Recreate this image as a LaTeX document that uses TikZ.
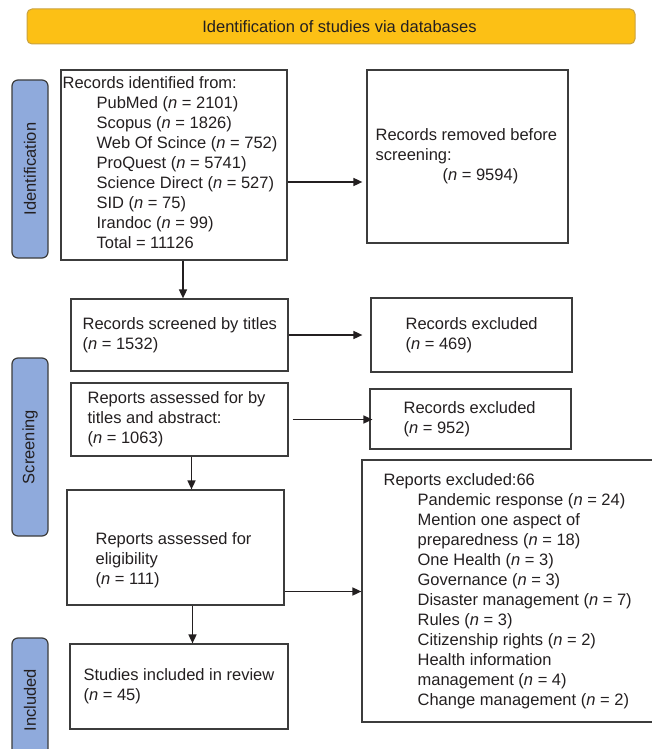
\documentclass[tikz,border=0pt]{standalone}
\usepackage{fontspec}
\setmainfont{Liberation Sans}
\usetikzlibrary{arrows.meta}
\definecolor{bannerfill}{HTML}{FCC015}
\definecolor{bannerline}{HTML}{C9A23F}
\definecolor{tabfill}{HTML}{8FAADC}
\definecolor{ink}{HTML}{231F20}
\definecolor{frame}{HTML}{3C3C3C}
\newcommand\ind{\hspace*{34pt}}
\newcommand\nn{\textit{n}}
\begin{document}
\begin{tikzpicture}[x=1pt,y=-1pt,
  every node/.style={font=\fontsize{16.5}{20}\selectfont, text=ink},
  box/.style={draw=frame, line width=1.2pt, inner sep=0pt},
  txt/.style={align=left, inner sep=0pt, anchor=west},
  tab/.style={draw=frame, fill=tabfill, rounded corners=6pt, line width=1.2pt, rotate=90, inner sep=0pt},
  arr/.style={draw=ink, line width=1.6pt, -{Triangle[length=9pt,width=8pt]}}]
\useasboundingbox (0,0) rectangle (652,749);
\clip (0,0) rectangle (652,749);

% banner
\node[draw=bannerline, fill=bannerfill, rounded corners=5pt, line width=1pt,
      minimum width=608pt, minimum height=35pt, inner sep=0pt] (ban) at (331,26.5)
      {\hspace*{17pt}Identification of studies via databases};

% side tabs
\node[tab, minimum width=178pt, minimum height=36pt] (tid) at (30,169) {Identification};
\node[tab, minimum width=178pt, minimum height=36pt] (tsc) at (30,447) {Screening};
\node[tab, minimum width=124pt, minimum height=36pt] (tin) at (30,700) {Included};

% boxes
\node[box, minimum width=226pt, minimum height=190pt] (b1) at (174,165) {};
\node[txt] (b1t) at ([xshift=2pt,yshift=2pt]b1.west) {Records identified from:\\
\ind PubMed (\nn{} = 2101)\\
\ind Scopus (\nn{} = 1826)\\
\ind Web Of Scince (\nn{} = 752)\\
\ind ProQuest (\nn{} = 5741)\\
\ind Science Direct (\nn{} = 527)\\
\ind SID (\nn{} = 75)\\
\ind Irandoc (\nn{} = 99)\\
\ind Total = 11126};

\node[box, minimum width=201pt, minimum height=173pt] (rem) at (467.5,156.5) {};
\node[txt] (remt) at ([xshift=9pt]rem.west) {Records removed before\\
screening:\\
\hspace*{67pt}(\nn{} = 9594)};

\node[box, minimum width=217pt, minimum height=72pt] (b2) at (179.5,335) {};
\node[txt] (b2t) at ([xshift=12pt]b2.west) {Records screened by titles\\(\nn{} = 1532)};

\node[box, minimum width=201pt, minimum height=74pt] (ex1) at (471.5,335) {};
\node[txt] (ex1t) at ([xshift=35pt]ex1.west) {Records excluded\\(\nn{} = 469)};

\node[box, minimum width=217pt, minimum height=73pt] (b3) at (179.5,419.5) {};
\node[txt] (b3t) at ([xshift=17pt]b3.west) {Reports assessed for by\\titles and abstract:\\(\nn{} = 1063)};

\node[box, minimum width=201pt, minimum height=60pt] (ex2) at (470.5,419) {};
\node[txt] (ex2t) at ([xshift=34pt]ex2.west) {Records excluded\\(\nn{} = 952)};

\node[box, minimum width=217pt, minimum height=115pt] (b4) at (175.5,547.5) {};
\node[txt] (b4t) at ([xshift=29pt,yshift=-13pt]b4.west) {Reports assessed for\\eligibility\\(\nn{} = 111)};

\node[box, minimum width=300pt, minimum height=262pt] (ex3) at (512,591) {};
\node[txt] (ex3t) at ([xshift=22pt]ex3.west) {Reports excluded:66\\
\ind Pandemic response (\nn{} = 24)\\
\ind Mention one aspect of\\
\ind preparedness (\nn{} = 18)\\
\ind One Health (\nn{} = 3)\\
\ind Governance (\nn{} = 3)\\
\ind Disaster management (\nn{} = 7)\\
\ind Rules (\nn{} = 3)\\
\ind Citizenship rights (\nn{} = 2)\\
\ind Health information\\
\ind management (\nn{} = 4)\\
\ind Change management (\nn{} = 2)};

\node[box, minimum width=218pt, minimum height=85pt] (b5) at (179,686.5) {};
\node[txt] (b5t) at ([xshift=14pt]b5.west) {Studies included in review\\(\nn{} = 45)};

% connectors
\draw[arr] ([xshift=9pt]b1.south) -- ([xshift=9pt]b1.south |- b2.north);
\draw[arr, shorten >=4pt] ([yshift=-17pt]b1.east) -- ([yshift=-17pt]b1.east -| rem.west);
\draw[arr, shorten >=8pt] (b2.east) -- (b2.east -| ex1.west);
\draw[arr, shorten >=1pt] ([xshift=4pt]b3.east) -- ([xshift=4pt]b3.east -| ex2.west);
\draw[arr] ([xshift=12pt]b3.south) -- ([xshift=12pt]b3.south |- b4.north);
\draw[arr] ([yshift=-44pt]b4.east) -- ([yshift=-44pt]b4.east -| ex3.west);
\draw[arr] ([xshift=17pt]b4.south) -- ([xshift=17pt]b4.south |- b5.north);
\end{tikzpicture}
\end{document}
